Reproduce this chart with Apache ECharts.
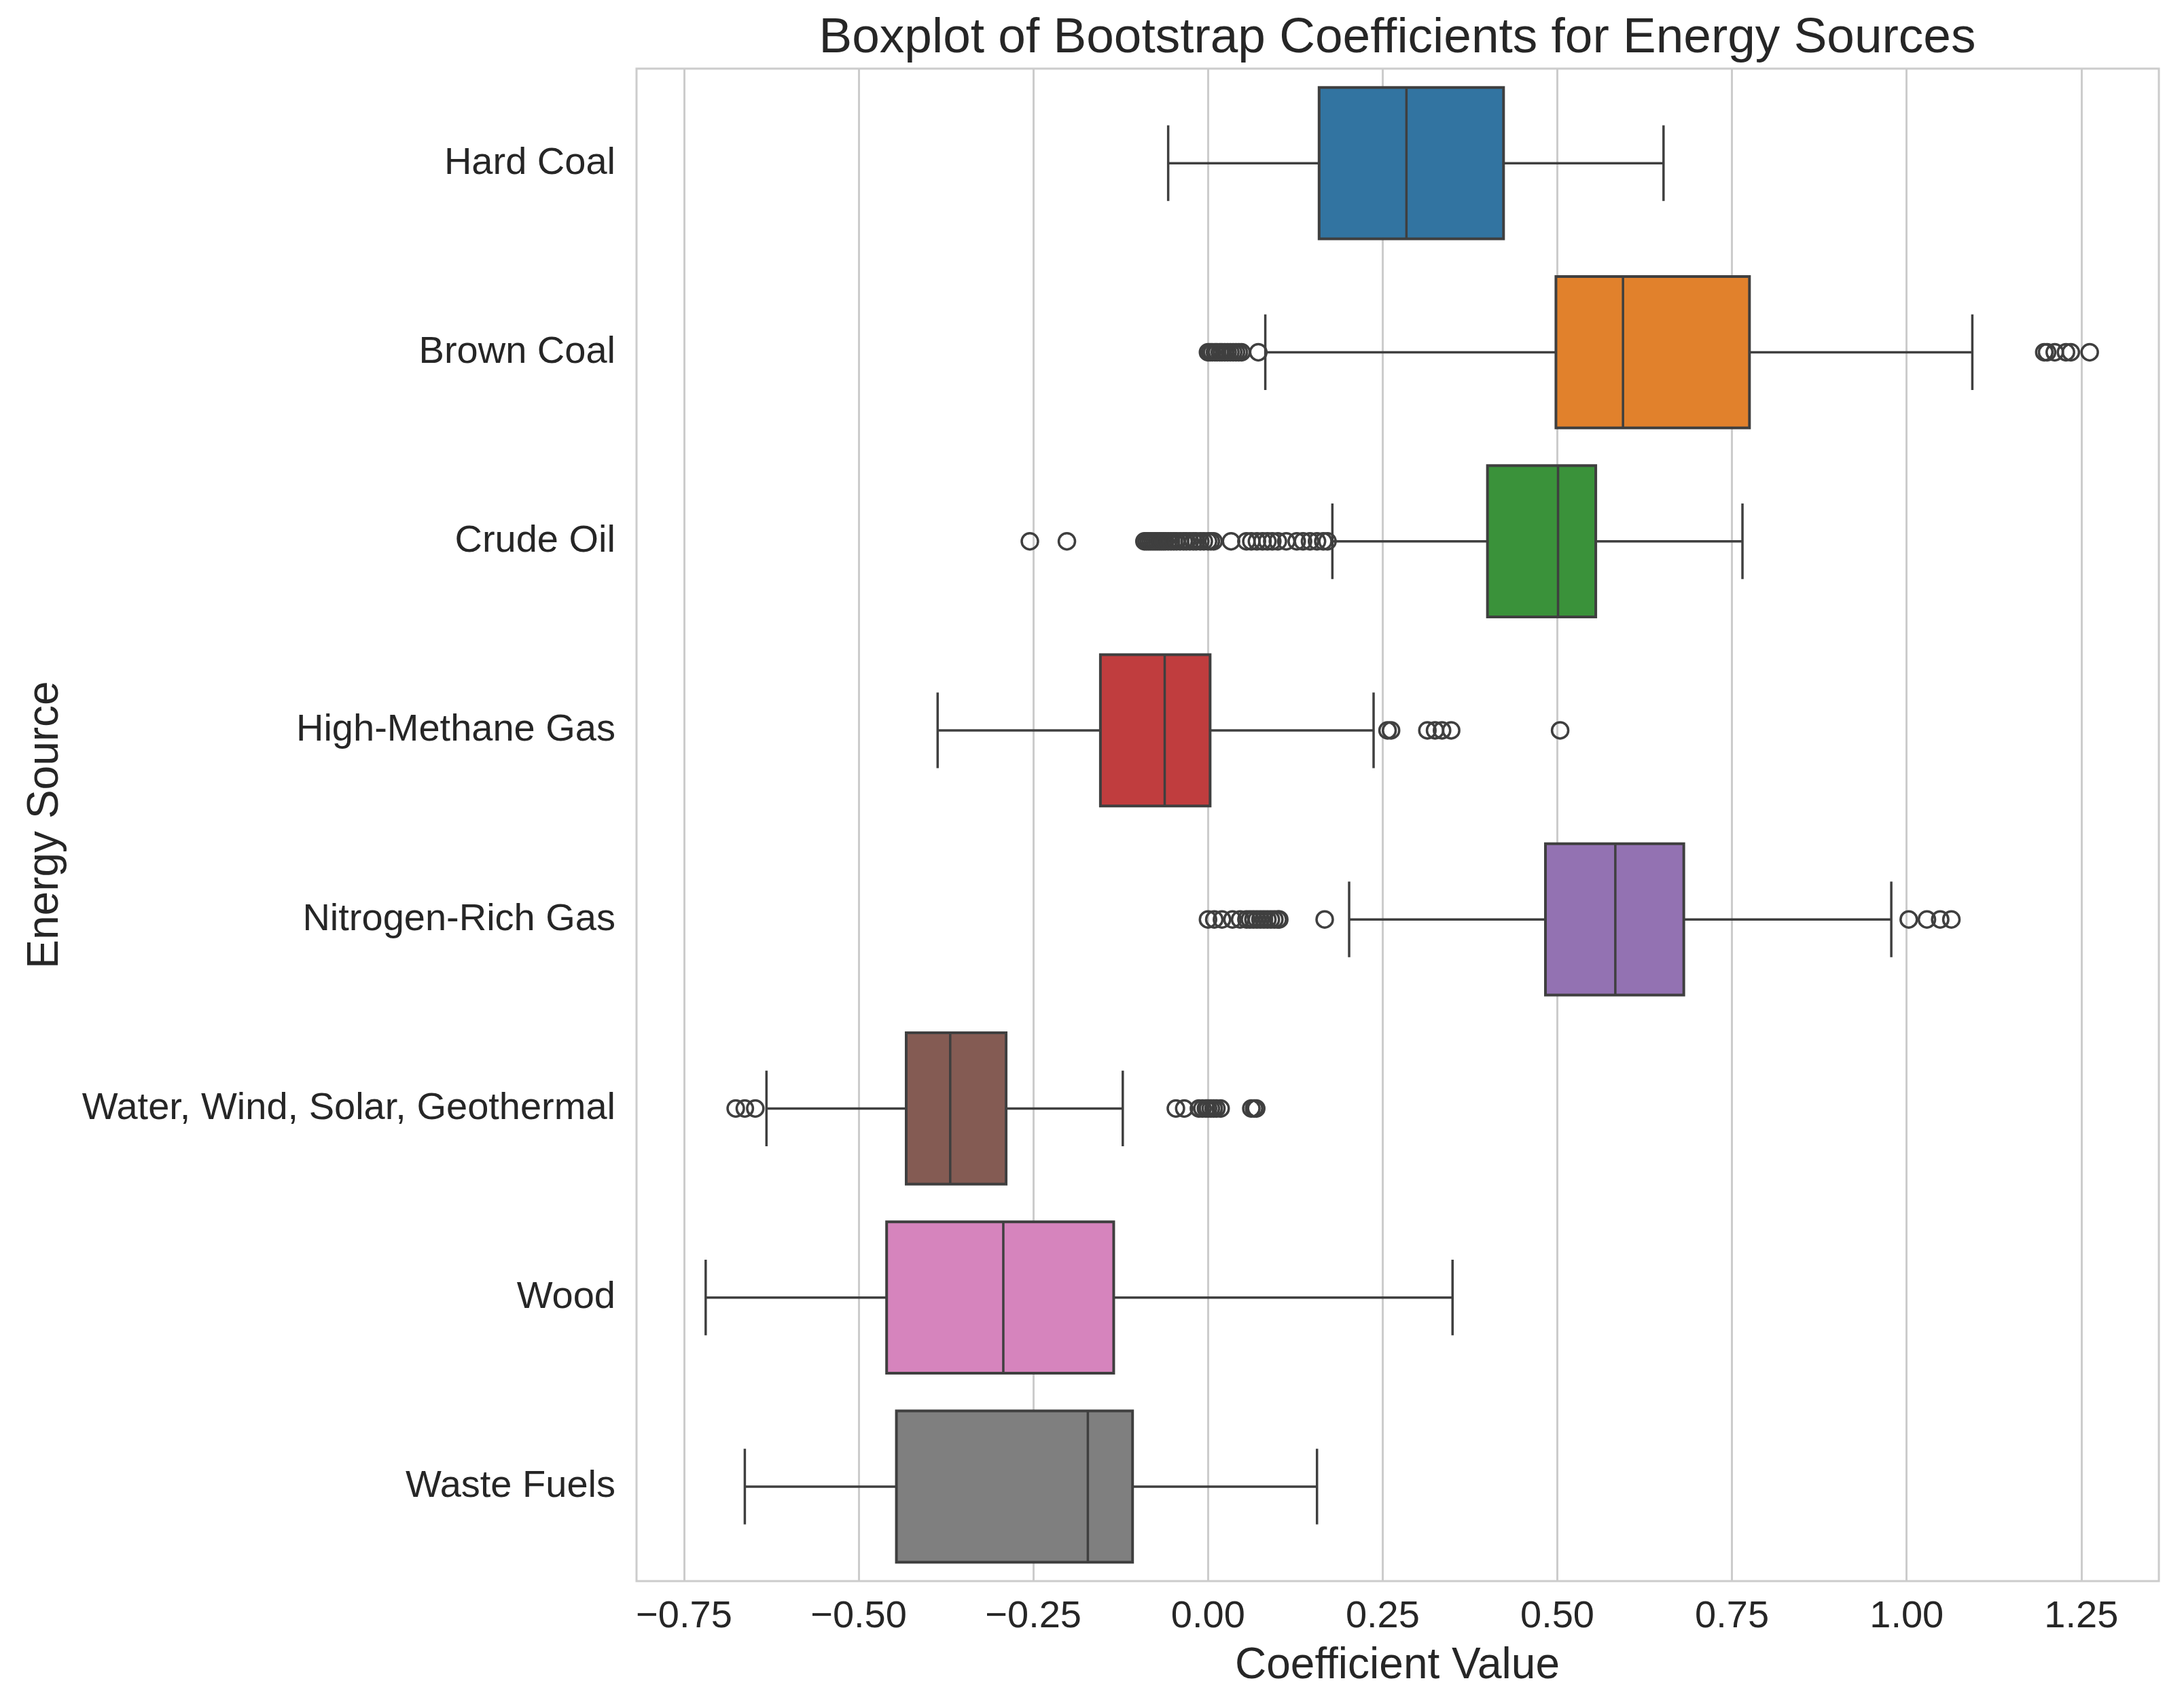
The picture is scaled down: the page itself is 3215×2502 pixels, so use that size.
<!DOCTYPE html>
<html>
<head>
<meta charset="utf-8">
<title>Boxplot of Bootstrap Coefficients for Energy Sources</title>
<script src="https://cdn.jsdelivr.net/npm/echarts@6/dist/echarts.min.js"></script>
<style>
  html, body { margin: 0; padding: 0; background: #fff; }
  #chart { width: 3215px; height: 2502px; }
</style>
</head>
<body>
<div id="chart"></div>
<script>
// categories, top to bottom
var categories = ['Hard Coal', 'Brown Coal', 'Crude Oil', 'High-Methane Gas',
  'Nitrogen-Rich Gas', 'Water, Wind, Solar, Geothermal', 'Wood', 'Waste Fuels'];

// box statistics
var whiskerLow  = [-0.057, 0.082, 0.178, -0.387, 0.202, -0.632, -0.719, -0.663];
var q1          = [0.159, 0.498, 0.400, -0.154, 0.483, -0.432, -0.460, -0.446];
var medians     = [0.284, 0.594, 0.501, -0.062, 0.583, -0.369, -0.293, -0.172];
var q3          = [0.423, 0.775, 0.555, 0.003, 0.681, -0.289, -0.135, -0.108];
var whiskerHigh = [0.652, 1.094, 0.765, 0.237, 0.978, -0.122, 0.350, 0.156];

// fliers per category
var outliers = [
  [],
  [0.0, 0.003, 0.006, 0.01, 0.013, 0.017, 0.02, 0.024, 0.028, 0.032, 0.036,
   0.04, 0.044, 0.048, 0.072,
   1.197, 1.201, 1.212, 1.228, 1.235, 1.262],
  [-0.255, -0.202, -0.091, -0.088, -0.085, -0.082, -0.079, -0.076, -0.073, -0.07,
   -0.067, -0.064, -0.061, -0.057, -0.053, -0.049, -0.045, -0.04, -0.035, -0.031,
   -0.026, -0.021, -0.017, -0.011, -0.006, 0.0, 0.004, 0.008, 0.033,
   0.055, 0.062, 0.07, 0.078, 0.085, 0.092, 0.1, 0.112, 0.127, 0.136, 0.146,
   0.156, 0.165, 0.171],
  [0.257, 0.262, 0.314, 0.325, 0.335, 0.348, 0.504],
  [0.0, 0.009, 0.02, 0.035, 0.046, 0.055, 0.06, 0.065, 0.07, 0.075, 0.08,
   0.085, 0.09, 0.095, 0.1, 0.102, 0.167, 1.003, 1.029, 1.048, 1.064],
  [-0.676, -0.663, -0.648, -0.046, -0.034, -0.013, -0.008, -0.003, 0.0, 0.004,
   0.008, 0.012, 0.018, 0.062, 0.066, 0.069],
  [],
  []
];

var tickValues = [-0.75, -0.5, -0.25, 0, 0.25, 0.5, 0.75, 1.0, 1.25];

var palette = ['#3274a1', '#e1812c', '#3a923a', '#c03d3e',
  '#9372b2', '#845b53', '#d684bd', '#7f7f7f'];
var EDGE = '#3f3f3f';
var TEXT = '#262626';
var FONT = '"Liberation Sans", Arial, sans-serif';

var boxData = categories.map(function (c, i) {
  return [i, whiskerLow[i], q1[i], medians[i], q3[i], whiskerHigh[i]];
});

var flierData = [];
outliers.forEach(function (list, i) {
  list.forEach(function (v) { flierData.push([v, i]); });
});

function renderBox(params, api) {
  var cat = api.value(0);
  var lo = api.coord([api.value(1), cat]);
  var b1 = api.coord([api.value(2), cat]);
  var md = api.coord([api.value(3), cat]);
  var b3 = api.coord([api.value(4), cat]);
  var hi = api.coord([api.value(5), cat]);
  var band = api.size([0, 1])[1];
  var half = band * 0.4;
  var cap = band * 0.2;
  var y = lo[1];
  var ls = { stroke: EDGE, lineWidth: 3.5 };
  return {
    type: 'group',
    children: [
      { type: 'line', shape: { x1: lo[0], y1: y, x2: b1[0], y2: y }, style: ls },
      { type: 'line', shape: { x1: b3[0], y1: y, x2: hi[0], y2: y }, style: ls },
      { type: 'line', shape: { x1: lo[0], y1: y - cap, x2: lo[0], y2: y + cap }, style: ls },
      { type: 'line', shape: { x1: hi[0], y1: y - cap, x2: hi[0], y2: y + cap }, style: ls },
      { type: 'rect', shape: { x: b1[0], y: y - half, width: b3[0] - b1[0], height: half * 2 },
        style: { fill: palette[cat], stroke: EDGE, lineWidth: 4 } },
      { type: 'line', shape: { x1: md[0], y1: y - half, x2: md[0], y2: y + half }, style: ls }
    ]
  };
}

var chart = echarts.init(document.getElementById('chart'));
chart.setOption({
  animation: false,
  backgroundColor: '#ffffff',
  textStyle: { fontFamily: FONT, color: TEXT },
  grid: {
    left: 937, right: 37, top: 101, bottom: 175,
    show: true, borderColor: '#cccccc', borderWidth: 3
  },
  graphic: [
    { type: 'text', x: 2057, y: 57,
      style: { text: 'Boxplot of Bootstrap Coefficients for Energy Sources', fill: TEXT,
        font: '73px ' + FONT, textAlign: 'center', textVerticalAlign: 'middle' } },
    { type: 'text', x: 2057, y: 2452,
      style: { text: 'Coefficient Value', fill: TEXT,
        font: '64px ' + FONT, textAlign: 'center', textVerticalAlign: 'middle' } },
    { type: 'text', x: 67, y: 1214, rotation: Math.PI / 2,
      style: { text: 'Energy Source', fill: TEXT,
        font: '64px ' + FONT, textAlign: 'center', textVerticalAlign: 'middle' } }
  ],
  xAxis: {
    type: 'value',
    min: -0.818,
    max: 1.361,
    axisLine: { show: false },
    axisTick: { show: false, customValues: tickValues },
    splitLine: { show: true, lineStyle: { color: '#cccccc', width: 3 } },
    axisLabel: {
      customValues: tickValues,
      fontSize: 56, color: TEXT, fontFamily: FONT, margin: 25,
      formatter: function (v) { return (v < 0 ? '\u2212' : '') + Math.abs(v).toFixed(2); }
    }
  },
  yAxis: {
    type: 'category',
    data: categories,
    inverse: true,
    axisLine: { show: false },
    axisTick: { show: false },
    splitLine: { show: false },
    axisLabel: { fontSize: 56, color: TEXT, fontFamily: FONT, margin: 31, padding: [16, 0, 0, 0] }
  },
  series: [
    {
      type: 'custom',
      renderItem: renderBox,
      encode: { x: [1, 2, 3, 4, 5], y: 0 },
      data: boxData,
      z: 2
    },
    {
      type: 'scatter',
      data: flierData,
      symbol: 'circle',
      symbolSize: 24,
      itemStyle: { color: 'rgba(0,0,0,0)', borderColor: EDGE, borderWidth: 3.5, opacity: 1 },
      z: 3
    }
  ]
});
</script>
</body>
</html>
